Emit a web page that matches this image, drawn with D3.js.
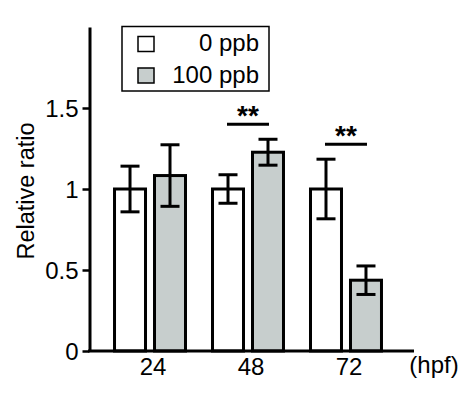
<!DOCTYPE html>
<html>
<head>
<meta charset="utf-8">
<script src="https://cdn.jsdelivr.net/npm/d3@7"></script>
<style>
  body { margin: 0; background: #fff; }
  svg { display: block; font-family: "Liberation Sans", Arial, sans-serif; }
</style>
</head>
<body>
<svg id="chart" width="474" height="394"></svg>
<script>
// data
const groups = ['24', '48', '72'];
const series = ['0 ppb', '100 ppb'];
const control = [1.0, 1.0, 1.0];
const treated = [1.083, 1.227, 0.437];
const controlErr = [0.141, 0.088, 0.184];
const treatedErr = [0.19, 0.08, 0.088];
const sigGroups = ['48', '72'];
const yTicks = [0, 0.5, 1, 1.5];
const yTickLabels = ['0', '0.5', '1', '1.5'];

const colors = { '0 ppb': '#ffffff', '100 ppb': '#c7cecd' };

const svg = d3.select('#chart');

const mLeft = 89.5, mBottom = 351, mTop = 27, mRight = 414;

const x = d3.scaleBand()
    .domain(groups)
    .range([mLeft, 406.5])
    .paddingInner(0.245)
    .paddingOuter(0.24);

const xs = d3.scaleBand()
    .domain(series)
    .range([1.5, x.bandwidth() - 1.5])
    .paddingInner(0.225);

const y = d3.scaleLinear().domain([0, 2]).range([mBottom, mTop]);

// rows for bars
const rows = [];
groups.forEach((g, i) => {
    rows.push({ g: g, s: series[0], v: control[i], e: controlErr[i] });
    rows.push({ g: g, s: series[1], v: treated[i], e: treatedErr[i] });
});

const cx = d => x(d.g) + xs(d.s) + xs.bandwidth() / 2;

svg.append('g').selectAll('rect')
    .data(rows)
    .join('rect')
    .attr('x', d => x(d.g) + xs(d.s))
    .attr('width', xs.bandwidth())
    .attr('y', d => y(d.v))
    .attr('height', d => y(0) - y(d.v))
    .attr('fill', d => colors[d.s])
    .attr('stroke', '#000')
    .attr('stroke-width', 3);

// error bars
const eb = svg.append('g').attr('stroke', '#000').attr('stroke-width', 3);
rows.forEach(d => {
    const c = cx(d);
    eb.append('line').attr('x1', c).attr('x2', c).attr('y1', y(d.v + d.e)).attr('y2', y(d.v - d.e));
    eb.append('line').attr('x1', c - 9.5).attr('x2', c + 9.5).attr('y1', y(d.v + d.e)).attr('y2', y(d.v + d.e));
    eb.append('line').attr('x1', c - 9.5).attr('x2', c + 9.5).attr('y1', y(d.v - d.e)).attr('y2', y(d.v - d.e));
});

// significance marks
sigGroups.forEach(g => {
    const pair = rows.filter(d => d.g === g);
    const level = d3.max(pair, d => d.v + d.e) + 0.093;
    const x1 = cx(pair[0]), x2 = cx(pair[1]);
    svg.append('line')
        .attr('x1', x1 - 1).attr('x2', x2 + 1)
        .attr('y1', y(level)).attr('y2', y(level))
        .attr('stroke', '#000').attr('stroke-width', 3);
    svg.append('text')
        .attr('x', (x1 + x2) / 2)
        .attr('y', y(level) + 1)
        .attr('text-anchor', 'middle')
        .attr('font-size', 28)
        .attr('font-weight', 'bold')
        .text('**');
});

// y axis
const yAxis = svg.append('g')
    .attr('transform', `translate(${mLeft},0)`)
    .call(d3.axisLeft(y).tickValues(yTicks).tickSize(7).tickSizeOuter(0)
        .tickPadding(4)
        .tickFormat((d, i) => yTickLabels[i]));
yAxis.select('.domain').attr('stroke-width', 3);
yAxis.selectAll('.tick line').attr('stroke-width', 2.5);
yAxis.selectAll('.tick text').attr('font-size', 24).attr('font-family', null).attr('fill', '#000').attr('dy', '0.37em');

// x axis
svg.append('line')
    .attr('x1', mLeft - 1.5).attr('x2', mRight)
    .attr('y1', mBottom).attr('y2', mBottom)
    .attr('stroke', '#000').attr('stroke-width', 3);

svg.append('g').selectAll('text')
    .data(groups)
    .join('text')
    .attr('x', d => x(d) + x.bandwidth() / 2 + 3)
    .attr('y', 375)
    .attr('text-anchor', 'middle')
    .attr('font-size', 24)
    .text(d => d);

svg.append('text')
    .attr('x', 434)
    .attr('y', 373)
    .attr('text-anchor', 'middle')
    .attr('font-size', 24)
    .text('(hpf)');

svg.append('text')
    .attr('transform', 'translate(34,191) rotate(-90)')
    .attr('text-anchor', 'middle')
    .attr('font-size', 23.5)
    .text('Relative ratio');

// legend
const lg = svg.append('g');
lg.append('rect')
    .attr('x', 122).attr('y', 26.5).attr('width', 147).attr('height', 64.5)
    .attr('fill', '#fff').attr('stroke', '#000').attr('stroke-width', 1.5);
series.forEach((s, i) => {
    lg.append('rect')
        .attr('x', 138).attr('y', 36.5 + i * 31.5).attr('width', 16).attr('height', 15)
        .attr('fill', colors[s]).attr('stroke', '#000').attr('stroke-width', 1.5);
    lg.append('text')
        .attr('x', 259).attr('y', 51 + i * 31.5)
        .attr('text-anchor', 'end')
        .attr('font-size', 24)
        .text(s);
});
</script>
</body>
</html>
